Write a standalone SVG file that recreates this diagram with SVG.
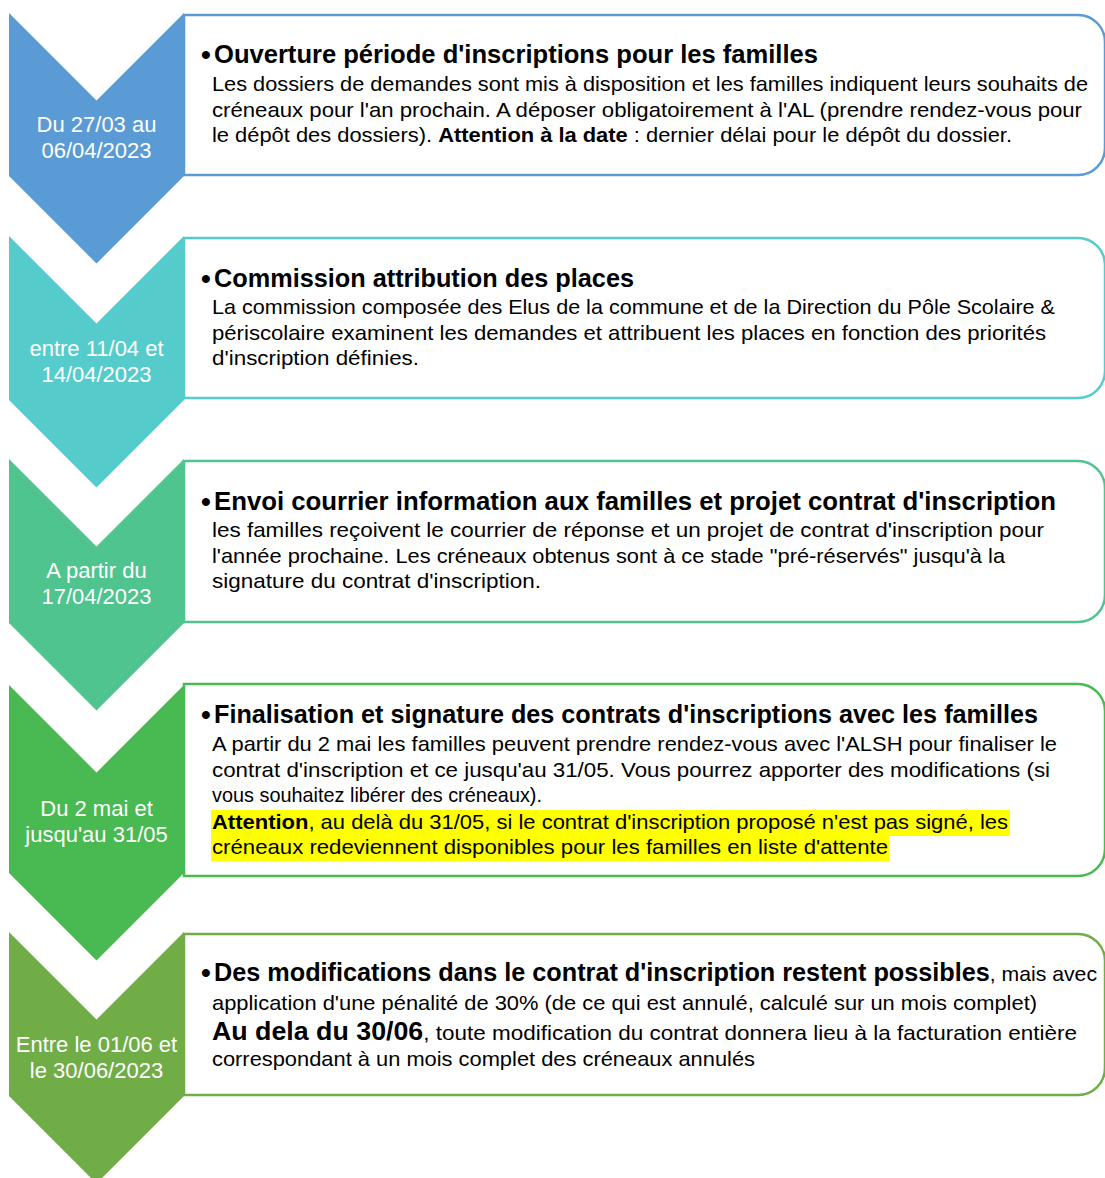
<svg xmlns="http://www.w3.org/2000/svg" width="1105" height="1178" viewBox="0 0 1105 1178">
<style>
.t{font-family:"Liberation Sans",Arial,sans-serif;font-size:25px;font-weight:bold;fill:#000}
.bl{font-family:"Liberation Sans",Arial,sans-serif;font-size:28px;font-weight:bold;fill:#000}
.b{font-family:"Liberation Sans",Arial,sans-serif;font-size:21px;fill:#000}
.bb{font-weight:bold}
.big{font-size:25px;font-weight:bold}
.d{font-family:"Liberation Sans",Arial,sans-serif;font-size:22px;fill:#fff;text-anchor:middle}
.box{fill:#fff;stroke-width:2.5}
.hl{fill:#ffff00}
</style>
<rect width="1105" height="1178" fill="#fff"/>

<g id="step1">
<path class="box" stroke="#5b9bd5" d="M184,15 H1078 A27,27 0 0 1 1105,42 V148 A27,27 0 0 1 1078,175 H184 Z"/>
<path fill="#5b9bd5" d="M9,13 L96.5,100.5 L184,13 V176 L96.5,263.5 L9,176 Z"/>
<text class="d" x="96.5" y="132">Du 27/03 au</text>
<text class="d" x="96.5" y="158">06/04/2023</text>
<text class="bl" x="201" y="64">•</text>
<text class="t" x="214" y="63" textLength="604" lengthAdjust="spacingAndGlyphs">Ouverture période d'inscriptions pour les familles</text>
<text class="b" x="212" y="91" textLength="876" lengthAdjust="spacingAndGlyphs">Les dossiers de demandes sont mis à disposition et les familles indiquent leurs souhaits de</text>
<text class="b" x="212" y="117" textLength="870" lengthAdjust="spacingAndGlyphs">créneaux pour l'an prochain. A déposer obligatoirement à l'AL (prendre rendez-vous pour</text>
<text class="b" x="212" y="142" textLength="800" lengthAdjust="spacingAndGlyphs">le dépôt des dossiers). <tspan class="bb">Attention à la date</tspan> : dernier délai pour le dépôt du dossier.</text>
</g>

<g id="step2">
<path class="box" stroke="#56cbcb" d="M184,238 H1078 A27,27 0 0 1 1105,265 V371 A27,27 0 0 1 1078,398 H184 Z"/>
<path fill="#56cbcb" d="M9,236 L96.5,323.5 L184,236 V400 L96.5,487.5 L9,400 Z"/>
<text class="d" x="96.5" y="356">entre 11/04 et</text>
<text class="d" x="96.5" y="382">14/04/2023</text>
<text class="bl" x="201" y="288">•</text>
<text class="t" x="214" y="287" textLength="420" lengthAdjust="spacingAndGlyphs">Commission attribution des places</text>
<text class="b" x="212" y="314" textLength="843" lengthAdjust="spacingAndGlyphs">La commission composée des Elus de la commune et de la Direction du Pôle Scolaire &amp;</text>
<text class="b" x="212" y="340" textLength="834" lengthAdjust="spacingAndGlyphs">périscolaire examinent les demandes et attribuent les places en fonction des priorités</text>
<text class="b" x="212" y="365" textLength="207" lengthAdjust="spacingAndGlyphs">d'inscription définies.</text>
</g>

<g id="step3">
<path class="box" stroke="#4fc48e" d="M184,461 H1078 A27,27 0 0 1 1105,488 V595 A27,27 0 0 1 1078,622 H184 Z"/>
<path fill="#4fc48e" d="M9,459 L96.5,546.5 L184,459 V623 L96.5,710.5 L9,623 Z"/>
<text class="d" x="96.5" y="578">A partir du</text>
<text class="d" x="96.5" y="604">17/04/2023</text>
<text class="bl" x="201" y="511">•</text>
<text class="t" x="214" y="510" textLength="842" lengthAdjust="spacingAndGlyphs">Envoi courrier information aux familles et projet contrat d'inscription</text>
<text class="b" x="212" y="537" textLength="832" lengthAdjust="spacingAndGlyphs">les familles reçoivent le courrier de réponse et un projet de contrat d'inscription pour</text>
<text class="b" x="212" y="563" textLength="793" lengthAdjust="spacingAndGlyphs">l'année prochaine. Les créneaux obtenus sont à ce stade "pré-réservés" jusqu'à la</text>
<text class="b" x="212" y="588" textLength="329" lengthAdjust="spacingAndGlyphs">signature du contrat d'inscription.</text>
</g>

<g id="step4">
<path class="box" stroke="#48ba51" d="M184,684 H1078 A27,27 0 0 1 1105,711 V849 A27,27 0 0 1 1078,876 H184 Z"/>
<path fill="#48ba51" d="M9,685 L96.5,772.5 L184,685 V873 L96.5,960.5 L9,873 Z"/>
<text class="d" x="96.5" y="816">Du 2 mai et</text>
<text class="d" x="96.5" y="842">jusqu'au 31/05</text>
<text class="bl" x="201" y="724">•</text>
<text class="t" x="214" y="723" textLength="824" lengthAdjust="spacingAndGlyphs">Finalisation et signature des contrats d'inscriptions avec les familles</text>
<text class="b" x="212" y="751" textLength="845" lengthAdjust="spacingAndGlyphs">A partir du 2 mai les familles peuvent prendre rendez-vous avec l'ALSH pour finaliser le</text>
<text class="b" x="212" y="777" textLength="838" lengthAdjust="spacingAndGlyphs">contrat d'inscription et ce jusqu'au 31/05. Vous pourrez apporter des modifications (si</text>
<text class="b" x="212" y="802" textLength="330" lengthAdjust="spacingAndGlyphs">vous souhaitez libérer des créneaux).</text>
<rect class="hl" x="211" y="810" width="799" height="26"/>
<rect class="hl" x="211" y="836" width="678" height="25"/>
<text class="b" x="212" y="829" textLength="796" lengthAdjust="spacingAndGlyphs"><tspan class="bb">Attention</tspan>, au delà du 31/05, si le contrat d'inscription proposé n'est pas signé, les</text>
<text class="b" x="212" y="854" textLength="676" lengthAdjust="spacingAndGlyphs">créneaux redeviennent disponibles pour les familles en liste d'attente</text>
</g>

<g id="step5">
<path class="box" stroke="#70ad47" d="M184,934 H1078 A27,27 0 0 1 1105,961 V1068 A27,27 0 0 1 1078,1095 H184 Z"/>
<path fill="#70ad47" d="M9,932 L96.5,1019.5 L184,932 V1096 L96.5,1183.5 L9,1096 Z"/>
<text class="d" x="96.5" y="1052">Entre le 01/06 et</text>
<text class="d" x="96.5" y="1078">le 30/06/2023</text>
<text class="bl" x="201" y="982">•</text>
<text class="b" x="214" y="981" textLength="883" lengthAdjust="spacingAndGlyphs"><tspan class="big">Des modifications dans le contrat d'inscription restent possibles</tspan>, mais avec</text>
<text class="b" x="212" y="1010" textLength="825" lengthAdjust="spacingAndGlyphs">application d'une pénalité de 30% (de ce qui est annulé, calculé sur un mois complet)</text>
<text class="b" x="212" y="1040" textLength="865" lengthAdjust="spacingAndGlyphs"><tspan class="big">Au dela du 30/06</tspan>, toute modification du contrat donnera lieu à la facturation entière</text>
<text class="b" x="212" y="1066" textLength="543" lengthAdjust="spacingAndGlyphs">correspondant à un mois complet des créneaux annulés</text>
</g>
</svg>
